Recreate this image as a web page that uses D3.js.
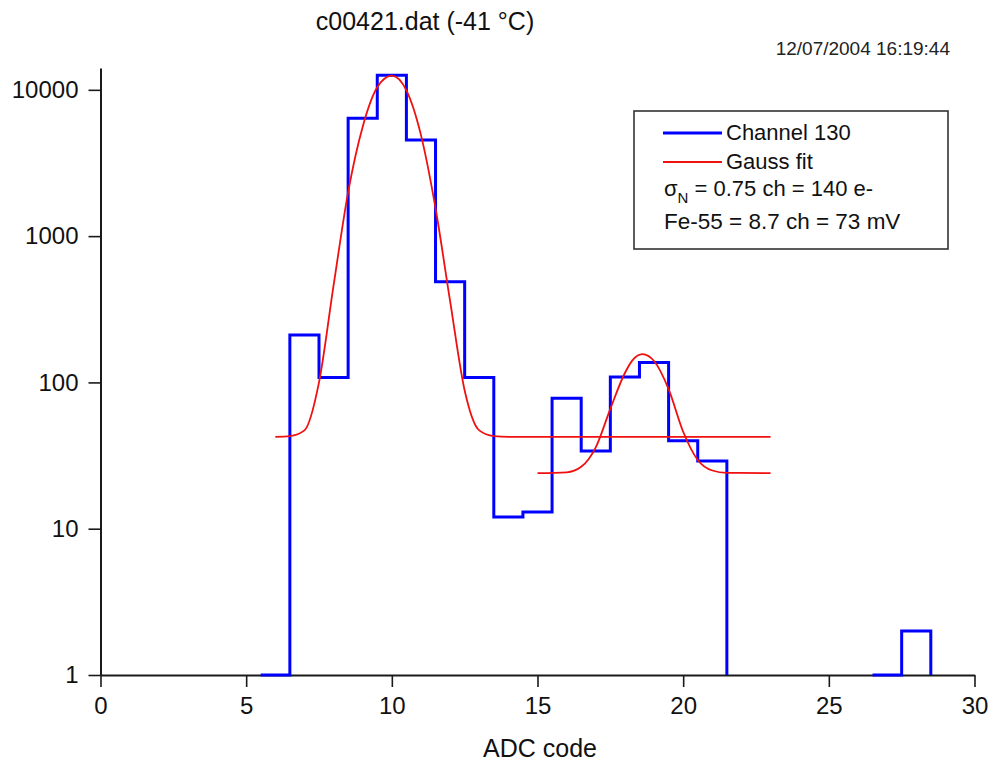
<!DOCTYPE html>
<html>
<head>
<meta charset="utf-8">
<script src="https://cdn.jsdelivr.net/npm/d3@7"></script>
<style>
  body { margin: 0; background: #fff; }
  svg { display: block; font-family: "Liberation Sans", Arial, sans-serif; }
</style>
</head>
<body>
<svg id="chart"></svg>
<script>
// histogram of channel 130 (bin centres and counts)
const binCenters = [6, 7, 8, 9, 10, 11, 12, 13, 14, 15, 16, 17, 18, 19, 20, 21, 27, 28];
const binCounts = [1, 211, 108, 6400, 12600, 4540, 488, 108, 12, 13, 78, 34, 109, 137, 40, 29, 1, 2];

// gauss fit curves
const fit1X = [6, 6.5, 7, 7.5, 8, 8.5, 9, 9.5, 10, 10.5, 11, 11.5, 12, 12.5, 13, 13.5, 14, 23];
const fit1Y = [42.5, 43, 47, 100, 460, 2000, 5600, 10400, 12500, 9900, 4900, 1550, 360, 88, 47, 43, 42.5, 42.5];
const fit2X = [15, 16, 16.5, 17, 17.5, 18, 18.25, 18.6, 19, 19.5, 20, 20.5, 21, 21.5, 23];
const fit2Y = [24, 24.3, 26.5, 36, 66, 116, 141, 156, 140, 90, 46, 29.5, 25, 24.1, 24];

const xMajor = [0, 5, 10, 15, 20, 25, 30];
const xMinor = [2.5, 7.5, 12.5, 17.5, 22.5, 27.5];
const yMajor = [1, 10, 100, 1000, 10000];

const legendLines = ["Channel 130", "Gauss fit"];

const width = 990, height = 763;
const svg = d3.select("#chart").attr("width", width).attr("height", height);
svg.append("rect").attr("width", width).attr("height", height).attr("fill", "#fff");

const x = d3.scaleLinear().domain([0, 30]).range([100.5, 974.5]);
const y = d3.scaleLog().domain([1, 14100]).range([675, 68]);

// minor y ticks 2..9 per decade
const yMinor = [];
yMajor.slice(0, -1).forEach(d => {
  for (let k = 2; k <= 9; k++) yMinor.push(d * k);
});

const axisColor = "#1a1a1a";

// x axis
const gx = svg.append("g").attr("transform", `translate(0,${y(1)})`);
gx.call(d3.axisBottom(x).tickValues(xMinor).tickSize(7).tickFormat("").tickSizeOuter(0));
gx.call(d3.axisBottom(x).tickValues(xMajor).tickSize(12).tickPadding(10).tickSizeOuter(0));
gx.selectAll("path.domain").attr("stroke", axisColor).attr("stroke-width", 2);
gx.selectAll(".tick line").attr("stroke", axisColor).attr("stroke-width", 1.6);
gx.selectAll(".tick text").attr("font-size", 24).attr("fill", "#111")
  .attr("font-family", "Liberation Sans, Arial, sans-serif");

// y axis
const gy = svg.append("g").attr("transform", `translate(${x(0)},0)`);
gy.call(d3.axisLeft(y).tickValues(yMinor).tickSize(7).tickFormat("").tickSizeOuter(0));
gy.call(d3.axisLeft(y).tickValues(yMajor).tickSize(12).tickPadding(10).tickFormat(d3.format("d")).tickSizeOuter(0));
gy.selectAll("path.domain").attr("stroke", axisColor).attr("stroke-width", 2);
gy.selectAll(".tick line").attr("stroke", axisColor).attr("stroke-width", 1.6);
gy.selectAll(".tick text").attr("font-size", 24).attr("fill", "#111")
  .attr("font-family", "Liberation Sans, Arial, sans-serif");

// histogram as steps, each run of filled bins drops to the floor at its end
const bins = binCenters.map((c, i) => ({ c: c, n: binCounts[i] }));
const runs = [];
bins.forEach((b, i) => {
  if (i === 0 || b.c - bins[i - 1].c !== 1) runs.push([]);
  runs[runs.length - 1].push(b);
});
const stepPath = runs.map(run => {
  let p = `M${x(run[0].c - 0.5)},${y(run[0].n)}`;
  run.forEach((b, i) => {
    if (i > 0) p += `V${y(b.n)}`;
    p += `H${x(b.c + 0.5)}`;
  });
  return p + `V${y(1)}`;
}).join("");

svg.append("path")
  .attr("d", stepPath)
  .attr("fill", "none")
  .attr("stroke", "#0000ff")
  .attr("stroke-width", 3)
  .attr("stroke-linejoin", "miter");

// gauss fits
const line = d3.line().x(d => x(d[0])).y(d => y(d[1])).curve(d3.curveMonotoneX);
[[fit1X, fit1Y], [fit2X, fit2Y]].forEach(([fx, fy]) => {
  svg.append("path")
    .attr("d", line(fx.map((v, i) => [v, fy[i]])))
    .attr("fill", "none")
    .attr("stroke", "#f01010")
    .attr("stroke-width", 1.8);
});

// title and date stamp
svg.append("text")
  .attr("x", 425).attr("y", 30)
  .attr("text-anchor", "middle")
  .attr("font-size", 25).attr("fill", "#111")
  .text("c00421.dat (-41 °C)");

svg.append("text")
  .attr("x", 950).attr("y", 55)
  .attr("text-anchor", "end")
  .attr("font-size", 19).attr("fill", "#222")
  .text("12/07/2004 16:19:44");

svg.append("text")
  .attr("x", 540).attr("y", 757)
  .attr("text-anchor", "middle")
  .attr("font-size", 25).attr("fill", "#111")
  .text("ADC code");

// legend
const lg = svg.append("g");
lg.append("rect")
  .attr("x", 634).attr("y", 111).attr("width", 314).attr("height", 138)
  .attr("fill", "#fff").attr("stroke", "#333").attr("stroke-width", 1.6);

const legendColors = ["#0000ff", "#f01010"];
const legendWidths = [3, 2];
legendLines.forEach((t, i) => {
  const ly = 133 + i * 29;
  lg.append("line")
    .attr("x1", 663).attr("x2", 722).attr("y1", ly).attr("y2", ly)
    .attr("stroke", legendColors[i]).attr("stroke-width", legendWidths[i]);
  lg.append("text")
    .attr("x", 726).attr("y", ly + 7)
    .attr("font-size", 22).attr("fill", "#111")
    .text(t);
});

const sig = lg.append("text").attr("x", 664).attr("y", 196).attr("font-size", 22).attr("fill", "#111");
sig.append("tspan").text("σ");
sig.append("tspan").attr("font-size", 15).attr("dy", 7).text("N");
sig.append("tspan").attr("dy", -7).text(" = 0.75 ch = 140 e-");

lg.append("text")
  .attr("x", 664).attr("y", 229)
  .attr("font-size", 22.5).attr("fill", "#111")
  .text("Fe-55 = 8.7 ch = 73 mV");
</script>
</body>
</html>
